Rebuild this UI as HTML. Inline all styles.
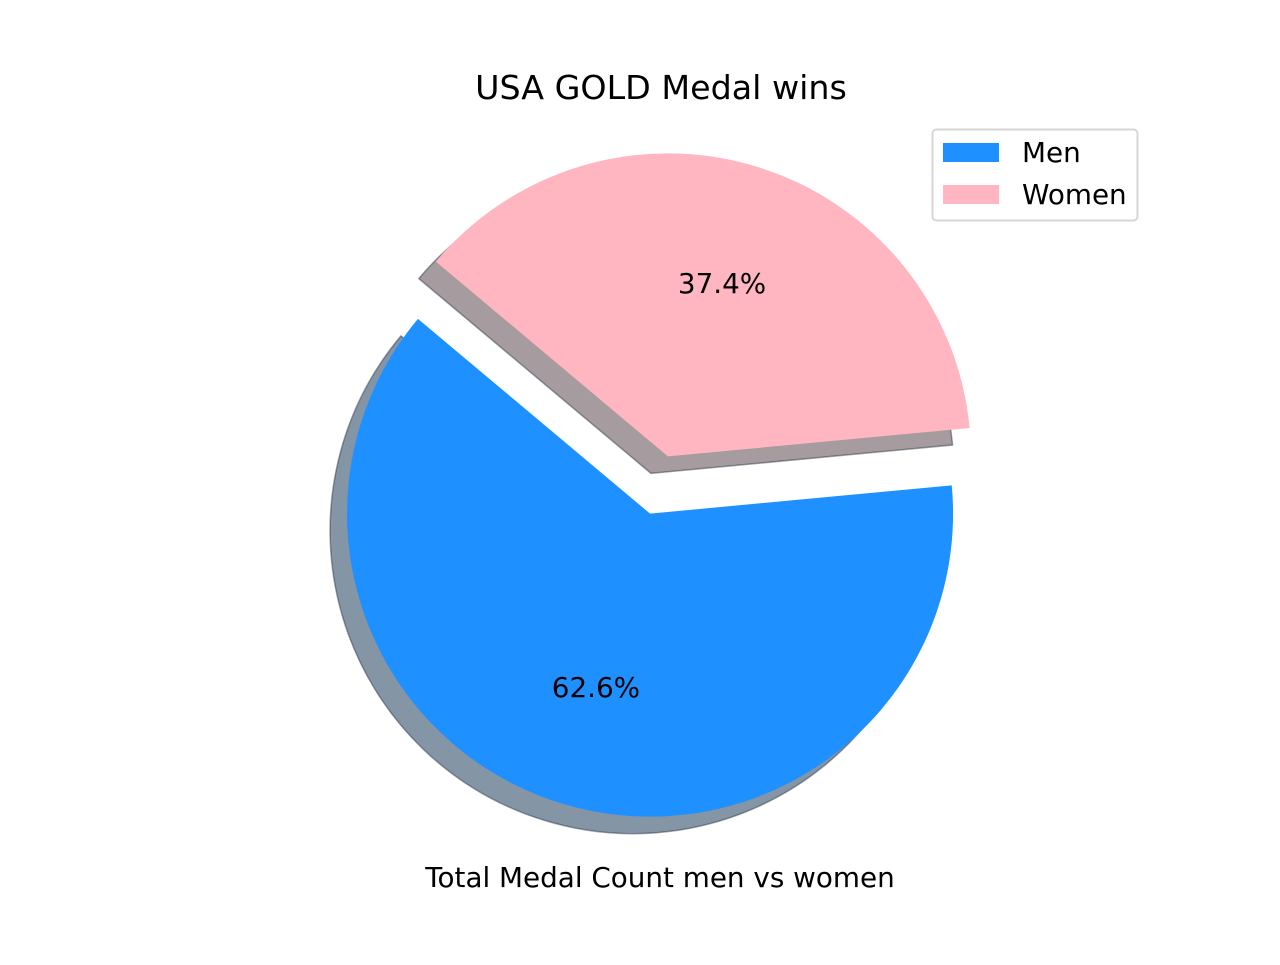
<!DOCTYPE html>
<html><head><meta charset="utf-8"><style>
html,body{margin:0;padding:0;background:#fff;}
svg text{font-family:"DejaVu Sans","Liberation Sans",sans-serif;}
.t{font-size:33.3px;}
.s{font-size:27.8px;}
</style></head><body>
<svg id="chart" width="1280" height="960" viewBox="0 0 1280 960">
<text class="t" x="661" y="99" text-anchor="middle">USA GOLD Medal wins</text>
<g id="shadows"></g>
<g id="slices"></g>
<g id="labels"></g>
<text class="s" x="660" y="887" text-anchor="middle">Total Medal Count men vs women</text>
<g>
<rect x="932.5" y="129.5" width="205" height="91" rx="4" fill="#fff" stroke="#d6d6d6" stroke-width="2"/>
<g><rect x="943" y="143" width="56" height="19" fill="#1e90ff"/><text class="s" x="1022" y="162">Men</text></g>
<g><rect x="943" y="185" width="56" height="19" fill="#ffb6c1"/><text class="s" x="1022" y="204">Women</text></g>
</g>
</svg>
<script>
const categories = ["Men", "Women"];
const shares = [62.6, 37.4];
const colors = ["#1e90ff", "#ffb6c1"];
const shadowColors = ["#8495a6", "#a69b9e"];
const labels = ["62.6%", "37.4%"];

const cx = 659, cy = 485, R = 303, EXP = 30, START = 140;
const SH = {dx: -17, dy: 17};
const total = shares.reduce((a, b) => a + b, 0);
const ns = "http://www.w3.org/2000/svg";
function pt(x, y, a, r) { const t = a * Math.PI / 180; return [x + r * Math.cos(t), y - r * Math.sin(t)]; }
function wedgePath(x, y, a0, a1) {
  const p0 = pt(x, y, a0, R), p1 = pt(x, y, a1, R);
  const large = (a1 - a0) > 180 ? 1 : 0;
  return `M${x},${y} L${p0[0]},${p0[1]} A${R},${R} 0 ${large} 0 ${p1[0]},${p1[1]} Z`;
}
let a = START;
const sg = document.getElementById('shadows'), pg = document.getElementById('slices'), lg = document.getElementById('labels');
shares.forEach((v, i) => {
  const span = v / total * 360, a0 = a, a1 = a + span, mid = (a0 + a1) / 2;
  const [ox, oy] = pt(cx, cy, mid, EXP);
  const sh = document.createElementNS(ns, 'path');
  sh.setAttribute('d', wedgePath(ox + SH.dx, oy + SH.dy, a0, a1));
  sh.setAttribute('fill', shadowColors[i]);
  sh.setAttribute('stroke', 'rgba(20,30,50,0.4)');
  sh.setAttribute('stroke-width', '1.5');
  
  
  sg.appendChild(sh);
  const w = document.createElementNS(ns, 'path');
  w.setAttribute('d', wedgePath(ox, oy, a0, a1));
  w.setAttribute('fill', colors[i]);
  
  
  pg.appendChild(w);
  const [lx, ly] = pt(ox, oy, mid, 0.6 * R);
  const t = document.createElementNS(ns, 'text');
  t.setAttribute('x', lx); t.setAttribute('y', ly + 10);
  t.setAttribute('class', 's');
  t.setAttribute('text-anchor', 'middle');
  t.textContent = labels[i];
  
  
  lg.appendChild(t);
  a = a1;
});
</script>
</body></html>
